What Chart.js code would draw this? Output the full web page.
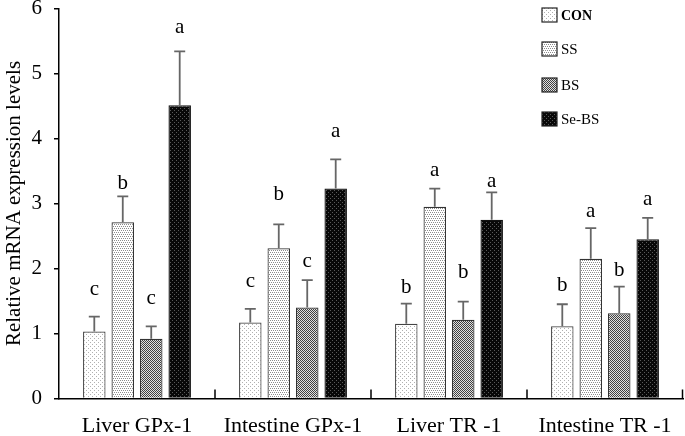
<!DOCTYPE html>
<html>
<head>
<meta charset="utf-8">
<script src="https://cdn.jsdelivr.net/npm/chart.js@4"></script>
<style>
  body { margin: 0; background: #fff; }
</style>
</head>
<body>
<canvas id="chart" width="685" height="436"></canvas>
<script>
const categories = ['Liver GPx-1', 'Intestine GPx-1', 'Liver TR -1', 'Intestine TR -1'];
const seriesNames = ['CON', 'SS', 'BS', 'Se-BS'];
const conValues = [1.03, 1.17, 1.15, 1.11];
const ssValues = [2.71, 2.31, 2.95, 2.15];
const bsValues = [0.92, 1.40, 1.21, 1.31];
const sebsValues = [4.51, 3.23, 2.75, 2.45];
const conErr = [0.23, 0.21, 0.31, 0.34];
const ssErr = [0.40, 0.37, 0.28, 0.47];
const bsErr = [0.19, 0.42, 0.28, 0.41];
const sebsErr = [0.83, 0.45, 0.42, 0.33];
const conLetters = ['c', 'c', 'b', 'b'];
const ssLetters = ['b', 'b', 'a', 'a'];
const bsLetters = ['c', 'c', 'b', 'b'];
const sebsLetters = ['a', 'a', 'a', 'a'];
// height (in axis units) of each letter's baseline
const conLetterY = [1.60, 1.71, 1.62, 1.66];
const ssLetterY = [3.22, 3.06, 3.43, 2.80];
const bsLetterY = [1.45, 2.03, 1.85, 1.89];
const sebsLetterY = [5.63, 4.02, 3.26, 2.98];
const yTicks = [0, 1, 2, 3, 4, 5, 6];

const serif = '"Liberation Serif", "Times New Roman", serif';

function makePattern(bg, dot, size, dots) {
  const c = document.createElement('canvas');
  c.width = size; c.height = size;
  const g = c.getContext('2d');
  g.fillStyle = bg; g.fillRect(0, 0, size, size);
  g.fillStyle = dot;
  dots.forEach(d => g.fillRect(d[0], d[1], 1, 1));
  return document.getElementById('chart').getContext('2d').createPattern(c, 'repeat');
}

const patterns = [
  makePattern('#ffffff', '#b0b0b0', 4, [[0, 0], [2, 2]]),
  makePattern('#ffffff', '#8c8c8c', 4, [[0, 0], [2, 0], [1, 2], [3, 2]]),
  makePattern('#e0e0e0', '#404040', 2, [[0, 0], [1, 1]]),
  makePattern('#080808', '#5a5a5a', 4, [[0, 0], [2, 2]])
];
const borders = ['#444', '#333', '#333', '#111'];

const values = [conValues, ssValues, bsValues, sebsValues];
const errors = [conErr, ssErr, bsErr, sebsErr];
const letters = [conLetters, ssLetters, bsLetters, sebsLetters];
const letterY = [conLetterY, ssLetterY, bsLetterY, sebsLetterY];

const extras = {
  id: 'extras',
  afterDatasetsDraw(chart) {
    const ctx = chart.ctx;
    const y = chart.scales.y;
    const x = chart.scales.x;
    const area = chart.chartArea;
    ctx.save();
    chart.data.datasets.forEach((ds, i) => {
      const meta = chart.getDatasetMeta(i);
      meta.data.forEach((bar, j) => {
        const top = y.getPixelForValue(values[i][j] + errors[i][j]);
        ctx.strokeStyle = '#666';
        ctx.lineWidth = 1.8;
        ctx.beginPath();
        ctx.moveTo(bar.x, bar.y);
        ctx.lineTo(bar.x, top);
        ctx.moveTo(bar.x - 5.5, top);
        ctx.lineTo(bar.x + 5.5, top);
        ctx.stroke();
        ctx.fillStyle = '#000';
        ctx.font = '21px ' + serif;
        ctx.textAlign = 'center';
        ctx.textBaseline = 'alphabetic';
        ctx.fillText(letters[i][j], bar.x, y.getPixelForValue(letterY[i][j]));
      });
    });
    // inward category ticks
    ctx.strokeStyle = '#000';
    ctx.lineWidth = 1.5;
    for (let k = 1; k <= categories.length; k++) {
      const px = Math.min(x.getPixelForValue(k - 0.5), area.right - 0.5);
      ctx.beginPath();
      ctx.moveTo(px, area.bottom);
      ctx.lineTo(px, area.bottom - 9);
      ctx.stroke();
    }
    // legend
    const lx = area.right - 141;
    const ly = [8, 42, 78, 112];
    seriesNames.forEach((name, i) => {
      ctx.fillStyle = patterns[i];
      ctx.fillRect(lx, ly[i], 15, 14);
      ctx.strokeStyle = '#222';
      ctx.lineWidth = 1.2;
      ctx.strokeRect(lx, ly[i], 15, 14);
      ctx.fillStyle = '#000';
      ctx.font = (i === 0 ? 'bold 14px ' : '15px ') + serif;
      ctx.textAlign = 'left';
      ctx.textBaseline = 'middle';
      ctx.fillText(name, lx + 19, ly[i] + 8);
    });
    ctx.restore();
  }
};

new Chart(document.getElementById('chart'), {
  type: 'bar',
  data: {
    labels: categories,
    datasets: seriesNames.map((name, i) => ({
      label: name,
      data: values[i],
      backgroundColor: patterns[i],
      borderColor: borders[i],
      borderWidth: 1.2,
      categoryPercentage: 0.73,
      barPercentage: 0.79
    }))
  },
  options: {
    responsive: false,
    animation: false,
    layout: { padding: { top: 8.5, right: 2, left: 0, bottom: 0 } },
    plugins: { legend: { display: false }, tooltip: { enabled: false } },
    scales: {
      x: {
        grid: { display: false },
        border: { color: '#000', width: 1.5 },
        ticks: { color: '#000', font: { family: serif, size: 22 }, padding: 7 },
        afterFit(s) { s.height = 37.5; }
      },
      y: {
        min: 0, max: 6,
        afterBuildTicks(s) { s.ticks = yTicks.map(v => ({ value: v })); },
        grid: { drawOnChartArea: false, drawTicks: true, tickLength: 5, color: '#000', lineWidth: 1.5 },
        border: { color: '#000', width: 1.5 },
        ticks: { color: '#000', font: { family: serif, size: 21 }, padding: 12 },
        title: { display: true, text: 'Relative mRNA expression levels', color: '#000', font: { family: serif, size: 21 }, padding: { top: 2, bottom: 0 } },
        afterFit(s) { s.width = 59; s.paddingTop = 0; s.paddingBottom = 0; }
      }
    }
  },
  plugins: [extras]
});
</script>
</body>
</html>
